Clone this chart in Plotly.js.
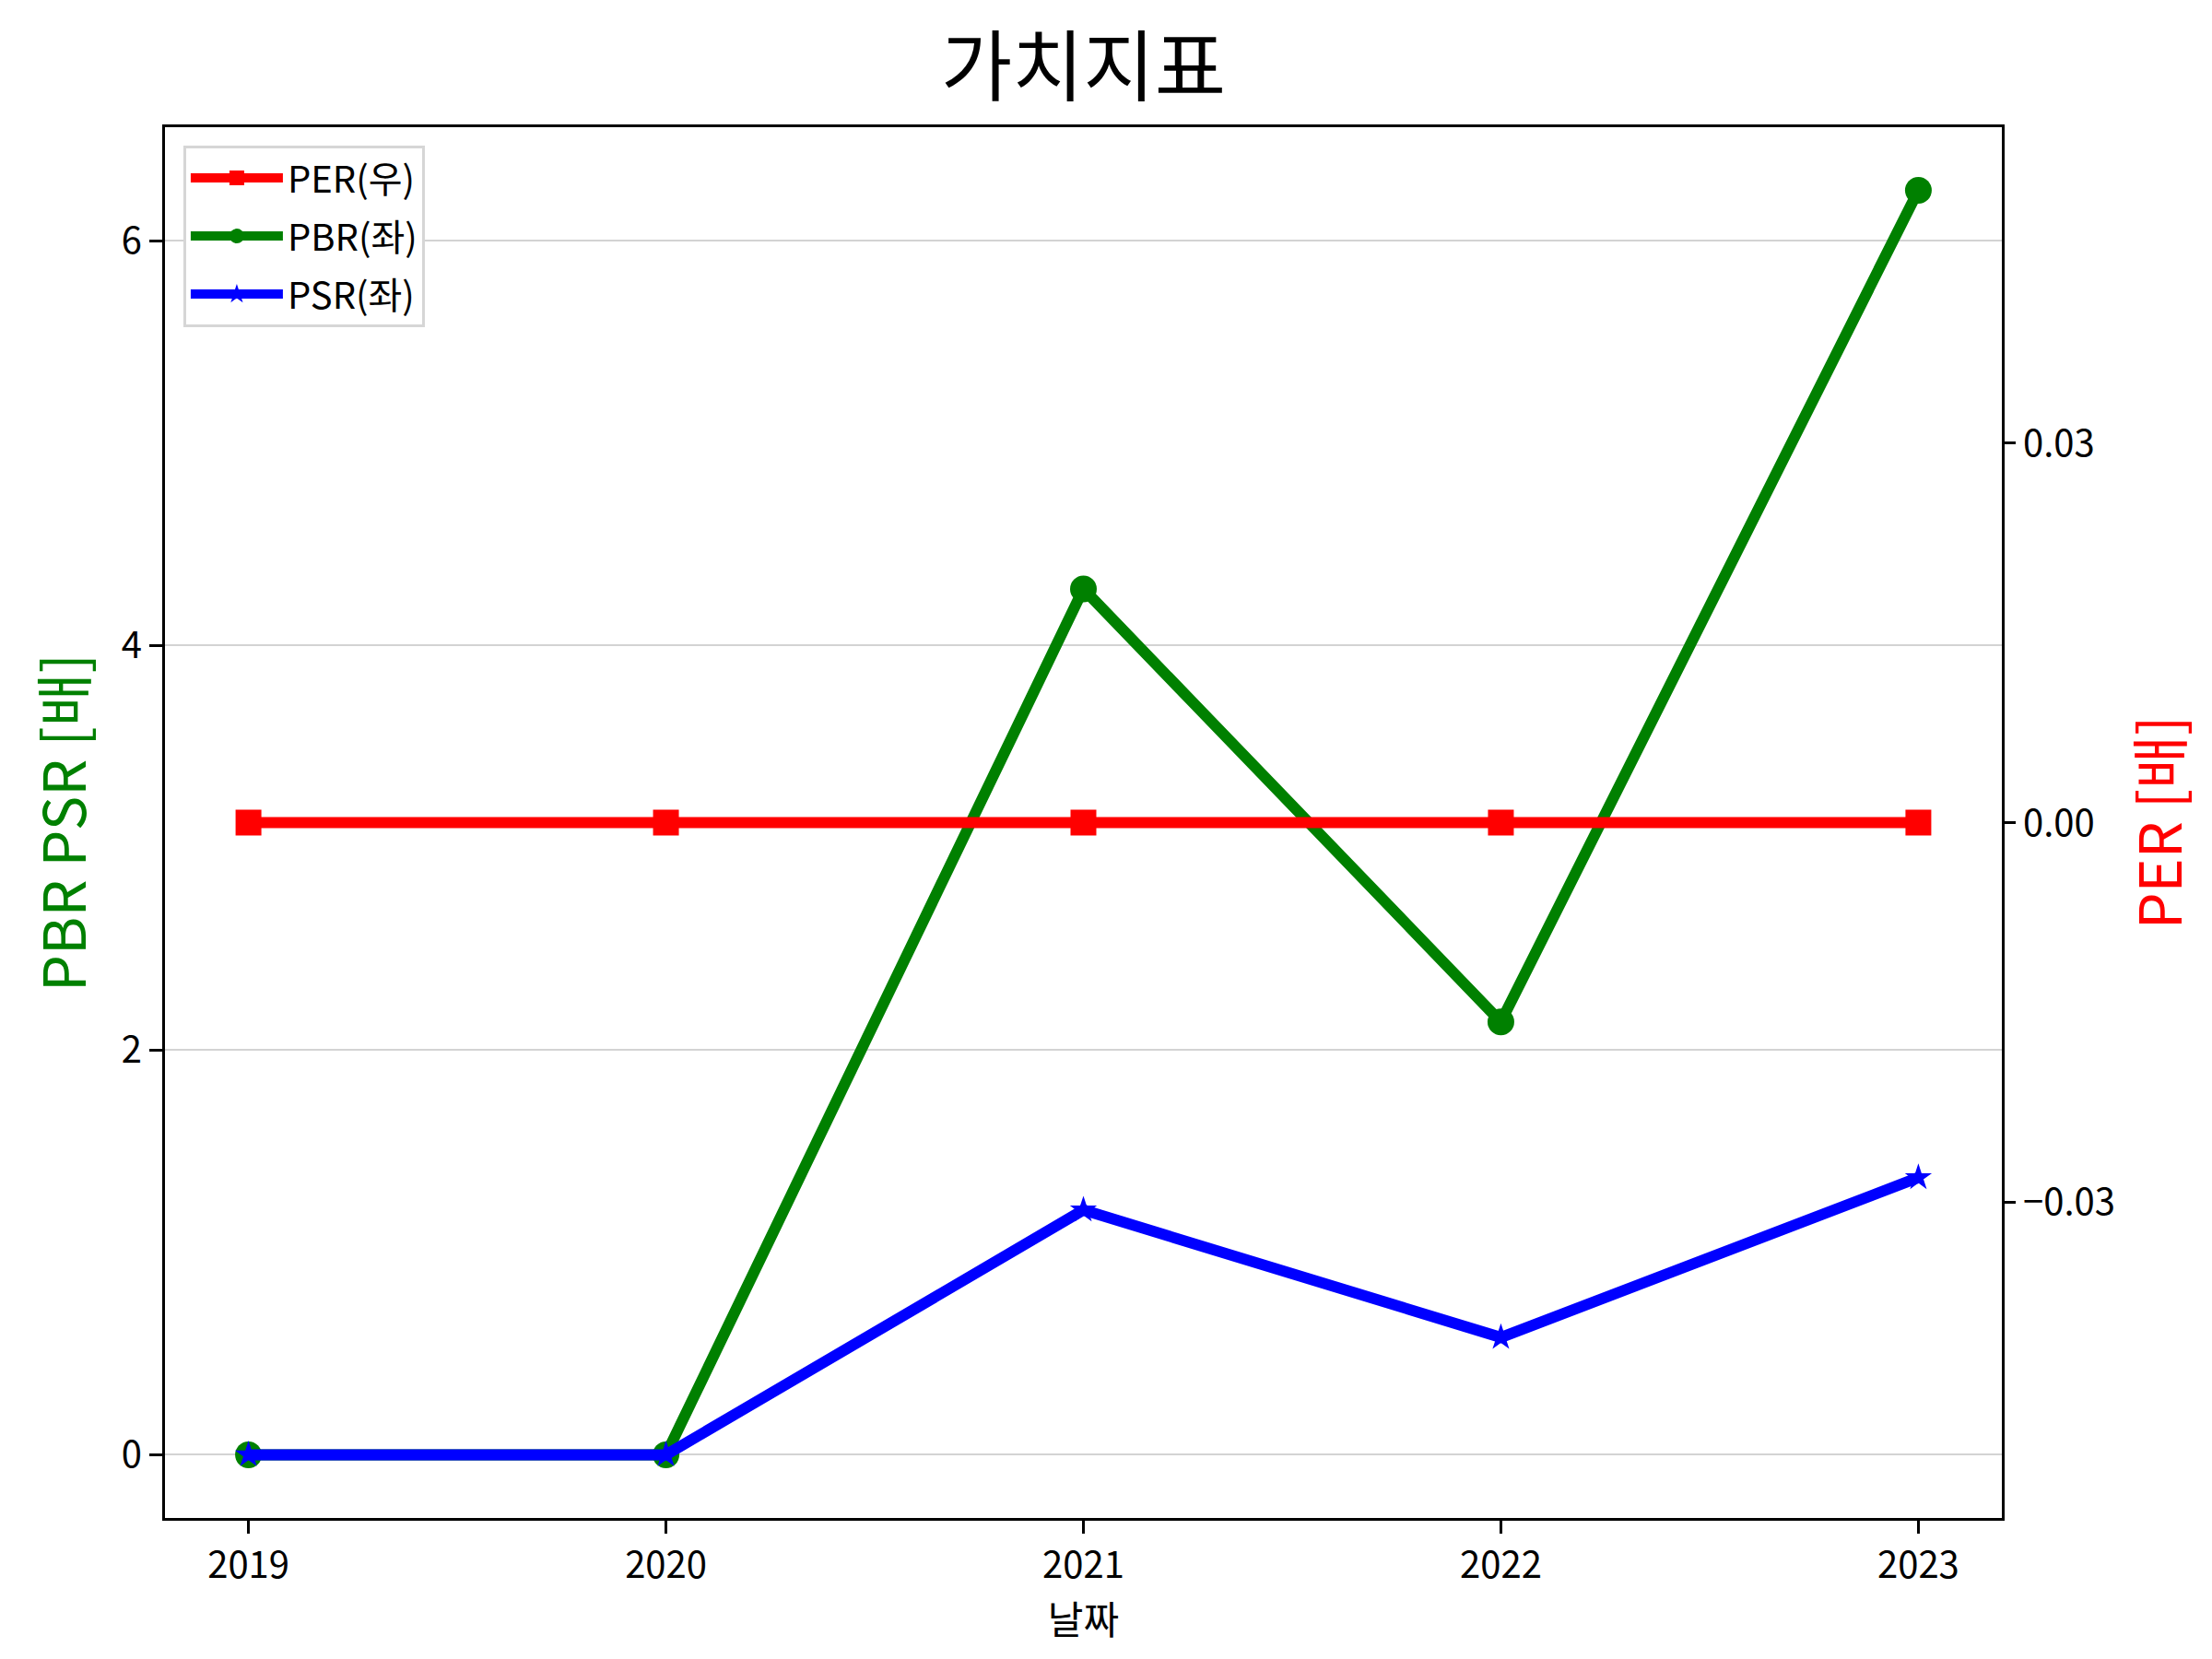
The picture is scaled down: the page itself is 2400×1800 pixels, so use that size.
<!DOCTYPE html>
<html>
<head>
<meta charset="utf-8">
<script src="https://cdn.plot.ly/plotly-3.0.1.min.js"></script>
<style>
  html, body { margin: 0; padding: 0; background: white; }
  #chart { width: 2400px; height: 1800px; }
</style>
</head>
<body>
<div id="chart"></div>
<script>
// values
const years = [2019, 2020, 2021, 2022, 2023];
const per = [0, 0, 0, 0, 0];
const pbr = [0, 0, 4.28, 2.14, 6.25];
const psr = [0, 0, 1.21, 0.58, 1.37];

const fontFamily = '"Noto Sans CJK KR", "Noto Sans", sans-serif';

const data = [
    {
        x: years,
        y: per,
        name: 'PER(우)',
        legendgroup: 'per',
        type: 'scatter',
        mode: 'lines+markers',
        yaxis: 'y2',
        line: { color: '#ff0000', width: 12 },
        marker: { symbol: 'square', size: 28, color: '#ff0000' }
    },
    {
        x: years,
        y: pbr,
        name: 'PBR(좌)',
        legendgroup: 'pbr',
        type: 'scatter',
        mode: 'lines+markers',
        line: { color: '#008000', width: 12 },
        marker: { symbol: 'circle', size: 29, color: '#008000' }
    },
    {
        x: years,
        y: psr,
        name: 'PSR(좌)',
        legendgroup: 'psr',
        type: 'scatter',
        mode: 'lines+markers',
        line: { color: '#0000ff', width: 12 },
        marker: { symbol: 'star', size: 22, color: '#0000ff' }
    }
];

const layout = {
    width: 2400,
    height: 1800,
    paper_bgcolor: 'white',
    plot_bgcolor: 'white',
    font: { family: fontFamily, size: 40, color: 'black' },
    margin: { l: 179, r: 228, t: 138, b: 153, pad: 0 },
    title: {
        text: '가치지표',
        font: { size: 84, color: 'black' },
        x: 0.4898,
        xanchor: 'center',
        y: 0.959,
        yref: 'container',
        yanchor: 'middle'
    },
    showlegend: true,
    legend: {
        x: 0.01,
        y: 0.987,
        xanchor: 'left',
        yanchor: 'top',
        bgcolor: 'white',
        bordercolor: '#d6d6d6',
        borderwidth: 3,
        font: { size: 40 },
        itemwidth: 100,
        tracegroupgap: 8
    },
    xaxis: {
        range: [2018.8, 2023.2],
        tickvals: years,
        ticktext: years.map(String),
        showgrid: false,
        zeroline: false,
        showline: true,
        mirror: true,
        linecolor: 'black',
        linewidth: 3,
        ticks: 'outside',
        ticklen: 14,
        tickwidth: 3,
        tickcolor: 'black',
        tickfont: { size: 40 },
        title: { text: '날짜', font: { size: 42 }, standoff: 18 }
    },
    yaxis: {
        range: [-0.3125, 6.5625],
        tickvals: [0, 2, 4, 6],
        showgrid: true,
        gridcolor: '#d3d3d3',
        gridwidth: 2,
        zeroline: false,
        showline: true,
        mirror: true,
        linecolor: 'black',
        linewidth: 3,
        ticks: 'outside',
        ticklen: 14,
        tickwidth: 3,
        tickcolor: 'black',
        tickfont: { size: 40 },
        title: { text: 'PBR PSR [배]', font: { size: 63, color: '#008000' }, standoff: 18 }
    },
    yaxis2: {
        overlaying: 'y',
        side: 'right',
        range: [-0.055, 0.055],
        tickvals: [-0.03, 0, 0.03],
        tickformat: '.2f',
        showgrid: false,
        zeroline: false,
        showline: false,
        ticks: 'outside',
        ticklen: 14,
        tickwidth: 3,
        tickcolor: 'black',
        tickfont: { size: 40 },
        title: { text: 'PER [배]', font: { size: 63, color: '#ff0000' }, standoff: 28 }
    }
};

Plotly.newPlot('chart', data, layout, { staticPlot: true });
</script>
</body>
</html>
